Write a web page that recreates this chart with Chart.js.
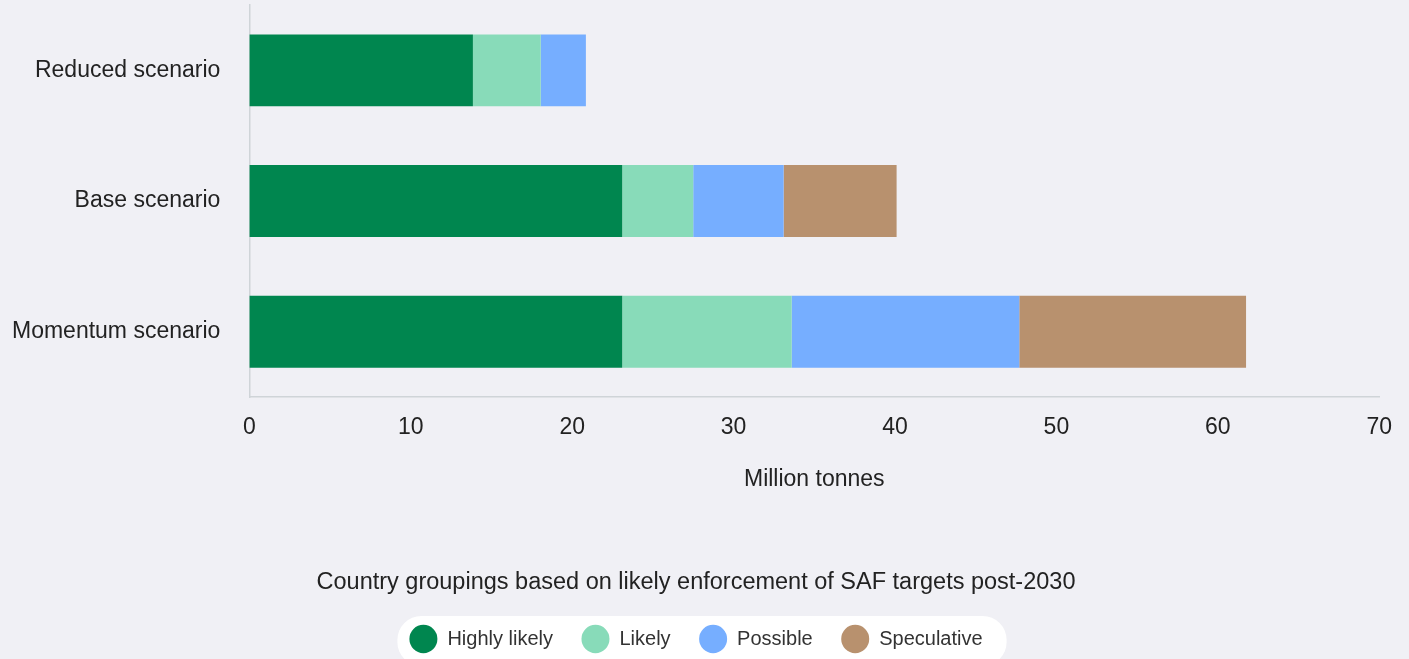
<!DOCTYPE html>
<html>
<head>
<meta charset="utf-8">
<script src="https://cdn.jsdelivr.net/npm/chart.js@4"></script>
<style>
  html, body { margin: 0; padding: 0; background: #f0f0f5; }
  #wrap { width: 1409px; height: 659px; position: relative; }
</style>
</head>
<body>
<div id="wrap"><canvas id="myChart"></canvas></div>
<script>
// Categories and series (million tonnes)
const scenarios = ['Reduced scenario', 'Base scenario', 'Momentum scenario'];
const highlyLikely = [13.85, 23.1, 23.1];
const likely = [4.2, 4.4, 10.5];
const possible = [2.8, 5.6, 14.1];
const speculative = [0, 7.0, 14.05];

const xTicks = [0, 10, 20, 30, 40, 50, 60, 70];

// White rounded box behind legend items
const legendBg = {
    id: 'legendBg',
    beforeDraw(chart) {
        const boxes = chart.legend && chart.legend.legendHitBoxes;
        if (!boxes || !boxes.length) return;
        const ctx = chart.ctx;
        const left = Math.min(...boxes.map(b => b.left)) - 12;
        const right = Math.max(...boxes.map(b => b.left + b.width)) + 24;
        const cy = boxes[0].top + boxes[0].height / 2;
        ctx.save();
        ctx.fillStyle = '#ffffff';
        ctx.beginPath();
        ctx.roundRect(left, cy - 23, right - left, 50, 24);
        ctx.fill();
        ctx.restore();
    }
};

const data = {
    labels: scenarios,
    datasets: [
        { label: 'Highly likely', data: highlyLikely, backgroundColor: '#00864f' },
        { label: 'Likely', data: likely, backgroundColor: '#88dbb9' },
        { label: 'Possible', data: possible, backgroundColor: '#76aeff' },
        { label: 'Speculative', data: speculative, backgroundColor: '#b8916e' }
    ]
};

const config = {
    type: 'bar',
    data,
    plugins: [legendBg],
    options: {
        indexAxis: 'y',
        responsive: true,
        maintainAspectRatio: false,
        animation: false,
        datasets: {
            bar: { barPercentage: 0.55, categoryPercentage: 1 }
        },
        layout: { padding: { top: 5, right: 29, left: 12, bottom: 0 } },
        scales: {
            x: {
                stacked: true,
                min: 0,
                max: 70,
                afterBuildTicks(axis) { axis.ticks = xTicks.map(v => ({ value: v })); },
                grid: { display: false, drawTicks: false },
                border: { display: true, color: '#cfd4d8', width: 1.5 },
                ticks: { color: '#222', font: { family: 'Liberation Sans', size: 23 }, padding: 17 },
                title: {
                    display: true,
                    text: 'Million tonnes',
                    color: '#222',
                    font: { family: 'Liberation Sans', size: 23 },
                    padding: { top: 7, bottom: 2 }
                }
            },
            y: {
                stacked: true,
                grid: { display: false, drawTicks: false },
                border: { display: true, color: '#cfd4d8', width: 1.5 },
                ticks: { color: '#222', font: { family: 'Liberation Sans', size: 23 }, padding: 29 },
                // drop the extra label padding chart.js adds on top, bottom and left
                afterFit(axis) {
                    axis.paddingTop = 0;
                    axis.paddingBottom = 0;
                    axis.width -= axis.options.ticks.padding;
                }
            }
        },
        plugins: {
            tooltip: { enabled: false },
            legend: {
                position: 'bottom',
                title: {
                    display: true,
                    text: 'Country groupings based on likely enforcement of SAF targets post-2030',
                    color: '#222',
                    font: { family: 'Liberation Sans', size: 23.5 },
                    padding: { top: 75, bottom: 2 }
                },
                labels: {
                    usePointStyle: true,
                    pointStyle: 'circle',
                    pointStyleWidth: 28,
                    boxHeight: 20,
                    color: '#333',
                    font: { family: 'Liberation Sans', size: 20 },
                    padding: 28.5
                }
            }
        }
    }
};

const myChart = new Chart(document.getElementById('myChart'), config);
</script>
</body>
</html>
